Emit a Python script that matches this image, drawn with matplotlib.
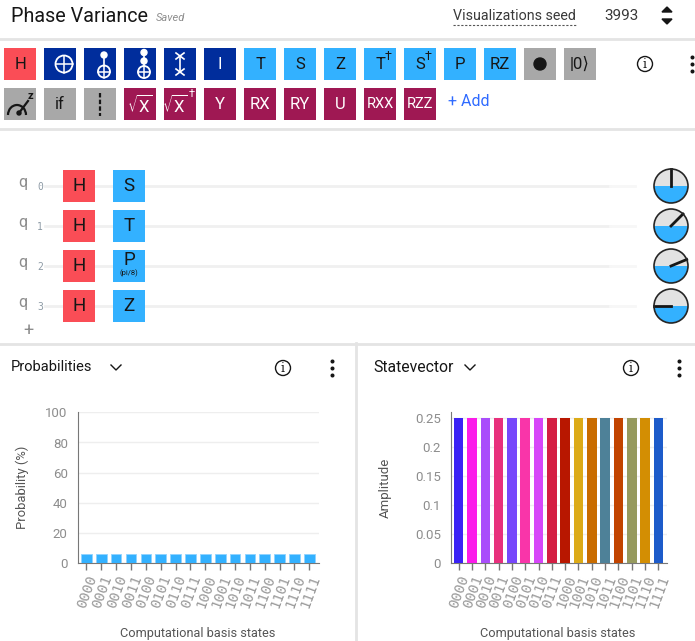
import matplotlib.pyplot as plt
import matplotlib.patches as patches

import numpy as np

plt.rcParams['font.family'] = ['Roboto', 'DejaVu Sans']
plt.rcParams['mathtext.default'] = 'regular'

states = ['0000','0001','0010','0011','0100','0101','0110','0111',
          '1000','1001','1010','1011','1100','1101','1110','1111']
probabilities = [6.25]*16
amplitudes = [0.25]*16
amp_colors = ['#3a22f5','#fb1bea','#a94dfb','#e8307c','#7747fb','#f935a9','#d746f9','#d41f43',
              '#b81700','#dcab18','#c96c00','#4e8198','#c24400','#969a5e','#d38e03','#1d5bca']
prob_ticks = [0, 20, 40, 60, 80, 100]
amp_ticks = [0, 0.05, 0.1, 0.15, 0.2, 0.25]
amp_ticklabels = ['0', '0.05', '0.1', '0.15', '0.2', '0.25']

red = '#fa4d56'
navy = '#002d9c'
blue = '#33b1ff'
grey = '#a8a8a8'
wine = '#9f1853'

row_one = [('H',red),('',navy),('',navy),('',navy),('',navy),('I',navy),('T',blue),('S',blue),('Z',blue),
           ('T',blue),('S',blue),('P',blue),('RZ',blue),('',grey),('|0⟩',grey)]
row_two = [('',grey),('if',grey),('',grey),(r'$\sqrt{X}$',wine),(r'$\sqrt{X}$',wine),('Y',wine),('RX',wine),
           ('RY',wine),('U',wine),('RXX',wine),('RZZ',wine)]
wire_gates = [['H','S'],['H','T'],['H','P'],['H','Z']]
wire_colors = [red, blue]
phases = [90, 45, 22.5, 180] # degrees on the disks

fig = plt.figure(figsize=(6.95, 6.41), dpi=100)
bg = fig.add_axes([0, 0, 1, 1])
bg.set_xlim(0, 695)
bg.set_ylim(641, 0)
bg.axis('off')

# page frame
bg.plot([0, 695], [39, 39], color='#e4e4e4', lw=2)
bg.plot([0, 695], [129, 129], color='#e4e4e4', lw=2)
bg.plot([0, 695], [343.5, 343.5], color='#e4e4e4', lw=2)
bg.plot([355.5, 355.5], [343, 641], color='#e4e4e4', lw=2)

bg.text(11, 17, 'Phase Variance', fontsize=14.2, color='#161616', va='center')
bg.text(156, 18, 'Saved', fontsize=8, color='#8d8d8d', style='italic', va='center')
bg.text(453, 16, 'Visualizations seed', fontsize=10.3, color='#393939', va='center')
bg.plot([453, 576], [24.5, 24.5], color='#555555', lw=0.8, ls=(0, (2, 1.5)))
bg.text(604, 16, '3993', fontsize=11, color='#393939', va='center')
bg.add_patch(patches.Polygon([[662, 12], [672, 12], [667, 7]], color='#161616'))
bg.add_patch(patches.Polygon([[662, 19], [672, 19], [667, 24]], color='#161616'))

# gate palette
i = 0
for name, col in row_one:
    x = 4 + i*40
    bg.add_patch(patches.Rectangle((x, 48), 32, 32, color=col, lw=0))
    tc = 'white' if col == navy else '#161616'
    bg.text(x+16, 64.5, name, color=tc, fontsize=12, ha='center', va='center')
    i = i + 1
i = 0
for name, col in row_two:
    x = 4 + i*40
    bg.add_patch(patches.Rectangle((x, 88), 32, 32, color=col, lw=0))
    tc = 'white' if col == wine else '#161616'
    size = 10.5 if len(name) == 3 else 12
    off = -5 if i == 4 else 0 # room for the dagger
    bg.text(x+16+off, 104.5, name, color=tc, fontsize=size, ha='center', va='center')
    i = i + 1
bg.text(388.5, 56, '†', color='#161616', fontsize=9, ha='center', va='center')
bg.text(428.5, 56, '†', color='#161616', fontsize=9, ha='center', va='center')
bg.text(191.5, 94, '†', color='white', fontsize=8, ha='center', va='center')

# little icons in the palette
for cx, cy, r in [(64, 64, 8.5), (104, 71.5, 6), (144, 72, 6)]:
    bg.add_patch(patches.Circle((cx, cy), r, fill=False, ec='white', lw=1.3))
    bg.plot([cx-r, cx+r], [cy, cy], color='white', lw=1.1)
    bg.plot([cx, cx], [cy-r, cy+r], color='white', lw=1.1)
bg.add_patch(patches.Circle((104, 55), 3, color='white'))
bg.plot([104, 104], [55, 66], color='white', lw=1.2)
bg.add_patch(patches.Circle((144, 52.5), 3, color='white'))
bg.add_patch(patches.Circle((144, 61), 3, color='white'))
bg.plot([144, 144], [53, 66], color='white', lw=1.2)
bg.plot([176, 184], [53, 59], color='white', lw=1.2)
bg.plot([184, 176], [53, 59], color='white', lw=1.2)
bg.plot([176, 184], [69, 75], color='white', lw=1.2)
bg.plot([184, 176], [69, 75], color='white', lw=1.2)
bg.plot([180, 180], [56, 72], color='white', lw=1.2)
bg.add_patch(patches.Circle((540, 64), 6, color='#161616'))
bg.add_patch(patches.Arc((17, 115), 18, 20, theta1=180, theta2=360, color='#161616', lw=1.6))
bg.plot([19, 28], [113, 101], color='#161616', lw=1.6)
bg.add_patch(patches.Circle((19, 113), 2, color='#161616'))
bg.text(30, 96, 'z', color='#161616', fontsize=8, weight='bold', ha='center', va='center')
bg.plot([100, 100], [93, 116], color='#161616', lw=1.6, ls=(0, (2, 1)))
bg.text(469, 102, '+ Add', color='#2f6bff', fontsize=11.5, ha='center', va='center')

# info and menu icons
for cx, cy, dx in [(645, 64, 692), (283, 368, 332), (631, 368, 679)]:
    bg.add_patch(patches.Circle((cx, cy), 7.5, fill=False, ec='#161616', lw=1))
    bg.text(cx, cy, 'i', fontsize=9, ha='center', va='center', color='#161616', family='DejaVu Serif')
    bg.plot([dx]*3, [cy-7, cy, cy+7], 'o', color='#161616', ms=1.9)

# circuit
for row in range(4):
    y = 186 + row*40
    bg.plot([45, 610], [y, y], color='#f0f0f0', lw=2, zorder=1)
    bg.plot([610, 635], [y, y], color='#f7f7f7', lw=2, zorder=1)
    bg.text(23, y-3, 'q', color='#8d8d8d', fontsize=11.5, ha='center', va='center')
    bg.text(40, y+1, str(row), color='#8d9aa5', fontsize=7, ha='center', va='center', family='DejaVu Sans Mono')
    col = 0
    for name in wire_gates[row]:
        x = 63 + col*50
        bg.add_patch(patches.Rectangle((x, y-16), 32, 32, color=wire_colors[col], lw=0, zorder=2))
        off = -6 if name == 'P' else 0
        bg.text(x+16, y+off, name, color='#161616', fontsize=13.5, ha='center', va='center', zorder=3)
        col = col + 1
    # phase disk
    cx = 671
    bg.add_patch(patches.Circle((cx, y), 17, color='#e2e2e2', lw=0, zorder=2))
    bg.add_patch(patches.Wedge((cx, y), 17, 0, 180, color=blue, lw=0, zorder=3))
    bg.add_patch(patches.Circle((cx, y), 17, fill=False, ec='#262626', lw=1.2, zorder=5))
    a = np.deg2rad(phases[row])
    bg.plot([cx, cx+17*np.cos(a)], [y, y-17*np.sin(a)], color='#161616', lw=2, zorder=4)
bg.text(28, 331, '+', color='#8d8d8d', fontsize=13, ha='center', va='center')
bg.text(129, 273.5, '(pi/8)', color='#161616', fontsize=5.5, ha='center', va='center')

bg.text(11, 367, 'Probabilities', fontsize=10.5, color='#161616', va='center')
bg.plot([111, 116, 121], [365, 370, 365], color='#161616', lw=1)
bg.text(373, 367, 'Statevector', fontsize=11.3, color='#161616', va='center')
bg.plot([465, 470, 475], [365, 370, 365], color='#161616', lw=1)

# probability chart
ax = fig.add_axes([77.5/695, 1-563.3/641, (319-77.5)/695, 151/641])
ax.bar(range(16), probabilities, width=0.72, color=blue, edgecolor='#8fd3ff', lw=0.6, zorder=3)
ax.set_xlim(-0.6, 15.65)
ax.set_ylim(0, 100)
ax.set_yticks(prob_ticks)
ax.set_ylabel('Probability (%)', fontsize=9.4, color='#555555', labelpad=12)

# statevector chart
ax2 = fig.add_axes([450.7/695, 1-563.3/641, (667-450.7)/695, 150.8/641])
ax2.bar(range(16), amplitudes, width=0.72, color=amp_colors, zorder=3)
ax2.set_xlim(-0.6, 15.65)
ax2.set_ylim(0, 0.26)
ax2.set_yticks(amp_ticks)
ax2.set_yticklabels(amp_ticklabels)
ax2.set_ylabel('Amplitude', fontsize=9.5, color='#555555', labelpad=17)

for o in [ax, ax2]:
    o.set_xticks(range(16))
    o.set_xticklabels(states, rotation=70, ha='right', va='top', rotation_mode='anchor',
                      fontsize=10.2, color='#9a9a9a', family='DejaVu Sans Mono')
    o.tick_params(axis='x', length=5, color='#777777', width=1, pad=2)
    o.tick_params(axis='y', length=0, labelsize=9.5, labelcolor='#8d8d8d', pad=7)
    o.grid(axis='y', color='#eeeeee', lw=1, zorder=0)
    o.spines['top'].set_visible(False)
    o.spines['right'].set_visible(False)
    o.spines['left'].set_color('#777777')
    o.spines['bottom'].set_color('#777777')
    o.patch.set_alpha(0)

bg.text(198, 634, 'Computational basis states', fontsize=9.2, color='#555555', ha='center', va='center')
bg.text(558, 634, 'Computational basis states', fontsize=9.2, color='#555555', ha='center', va='center')

fig.savefig('out.png', dpi=100)
